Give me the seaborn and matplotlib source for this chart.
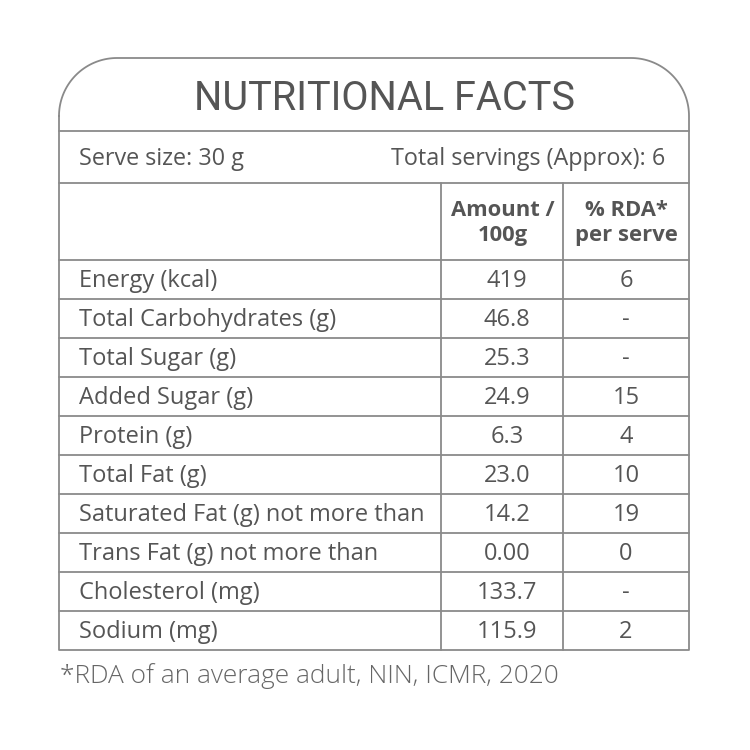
import matplotlib
matplotlib.use("Agg")
import matplotlib.pyplot as plt
import seaborn as sns
import numpy as np

# table content
title = "NUTRITIONAL FACTS"
serve_size = "Serve size: 30 g"
total_servings = "Total servings (Approx): 6"
col_headers = ["Amount /\n100g", "% RDA*\nper serve"]
nutrients = ["Energy (kcal)", "Total Carbohydrates (g)", "Total Sugar (g)",
             "Added Sugar (g)", "Protein (g)", "Total Fat (g)",
             "Saturated Fat (g) not more than", "Trans Fat (g) not more than",
             "Cholesterol (mg)", "Sodium (mg)"]
amounts = ["419", "46.8", "25.3", "24.9", "6.3", "23.0", "14.2", "0.00", "133.7", "115.9"]
rda = ["6", "-", "-", "15", "4", "10", "19", "0", "-", "2"]
footnote = "*RDA of an average adult, NIN, ICMR, 2020"

sns.set_theme(style="white")
plt.rcParams['font.family'] = ['Open Sans', 'DejaVu Sans']

txt = "#555555"
line = "#8a8a8a"

fig = plt.figure(figsize=(7.5, 7.5), dpi=100)
ax = fig.add_axes([0, 0, 1, 1])
ax.set_xlim(0, 750)
ax.set_ylim(750, 0)
ax.axis("off")

# box geometry (pixels)
left, right = 59, 689
top, bottom = 58, 650
r = 58
c1, c2 = 441, 563
row_top = 260
row_h = 39

# outline with rounded top corners (y axis is inverted)
tl = np.linspace(np.pi, 1.5 * np.pi, 40)
tr = np.linspace(1.5 * np.pi, 2 * np.pi, 40)
xs = np.concatenate([[left], left + r + r * np.cos(tl),
                     right - r + r * np.cos(tr), [right, right, left, left]])
ys = np.concatenate([[top + r], top + r + r * np.sin(tl),
                     top + r + r * np.sin(tr), [top + r, bottom, bottom, top + r]])
ax.plot(xs, ys, color=line, lw=1.3, solid_joinstyle="round")

# horizontal rules
for y in [131, 183, row_top]:
    ax.plot([left, right], [y, y], color=line, lw=1.3)
for i in range(1, len(nutrients)):
    y = row_top + i * row_h
    ax.plot([left, right], [y, y], color=line, lw=1.3)
# column dividers
for x in [c1, c2]:
    ax.plot([x, x], [183, bottom], color=line, lw=1.3)

ax.text(384, 98, title, ha="center", va="center",
        fontsize=28.5, color=txt, family=['Roboto', 'DejaVu Sans'])
ax.text(79, 159, serve_size, ha="left", va="center", fontsize=16.8, color=txt)
ax.text(665, 159, total_servings, ha="right", va="center", fontsize=16.8, color=txt)

ax.text((c1 + c2) / 2 + 1, 223, col_headers[0], ha="center", va="center",
        fontsize=15.8, fontweight="bold", color=txt, linespacing=1.25)
ax.text((c2 + right) / 2, 223, col_headers[1], ha="center", va="center",
        fontsize=15.8, fontweight="bold", color=txt, linespacing=1.25)

for i, (n, a, p) in enumerate(zip(nutrients, amounts, rda)):
    yc = row_top + (i + 0.5) * row_h + 1.5
    ax.text(79, yc, n, ha="left", va="center", fontsize=17, color=txt)
    ax.text((c1 + c2) / 2 + 5, yc, a, ha="center", va="center", fontsize=17, color=txt)
    ax.text((c2 + right) / 2, yc, p, ha="center", va="center", fontsize=17, color=txt)

ax.text(60, 676, footnote, ha="left", va="center", fontsize=18.9,
        color="#666666", fontweight="light")

fig.savefig("out.png", dpi=100, facecolor="white")
